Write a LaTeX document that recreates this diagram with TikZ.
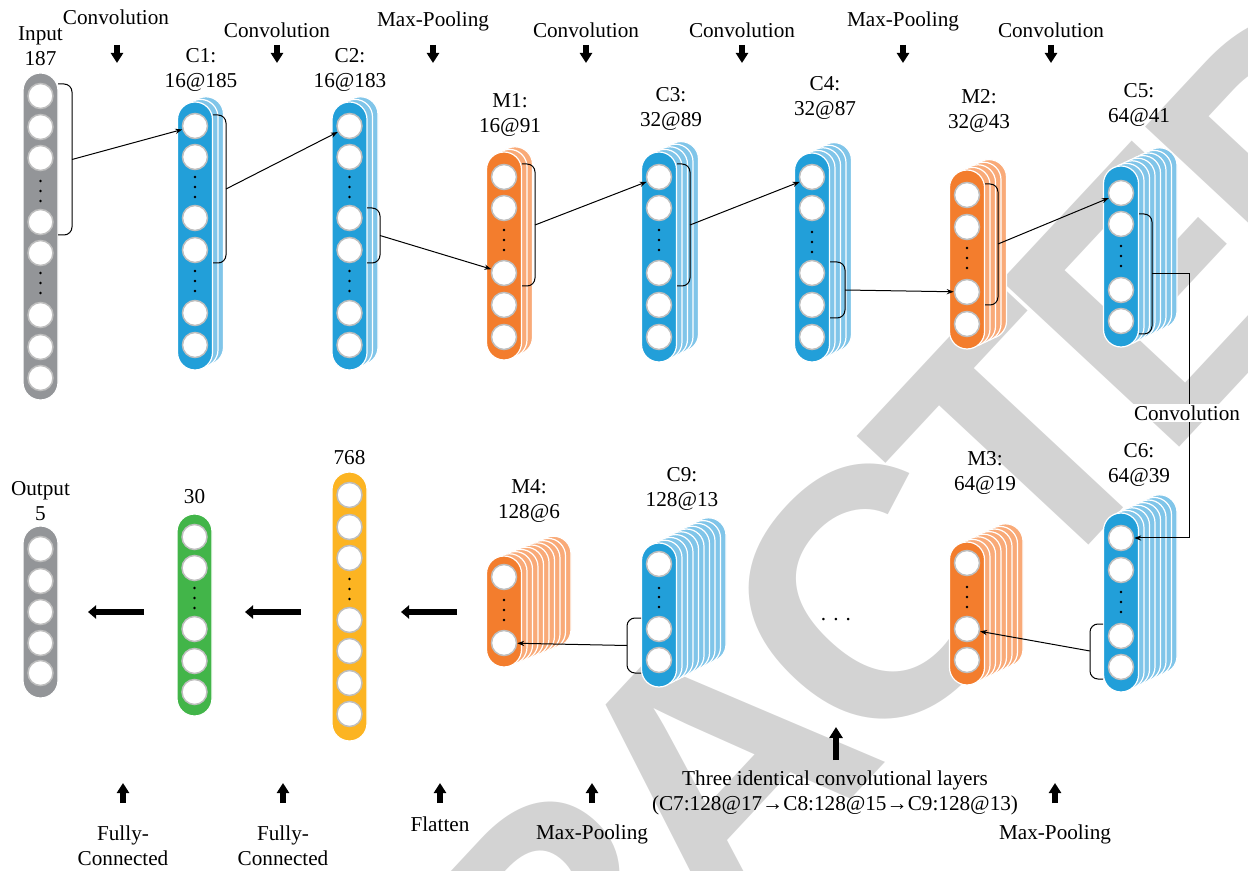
\documentclass[tikz,border=0pt]{standalone}
\usepackage{fontspec}
\setmainfont{Liberation Serif}
\setsansfont{Liberation Sans}
\newfontfamily\wmfont{Liberation Sans}[LetterSpace=-7]
\usetikzlibrary{arrows.meta}
\definecolor{pillgray}{RGB}{147,149,152}
\definecolor{nblue}{RGB}{34,159,217}
\definecolor{lblue}{RGB}{128,197,233}
\definecolor{norange}{RGB}{243,125,45}
\definecolor{lorange}{RGB}{249,170,120}
\definecolor{nyellow}{RGB}{252,180,34}
\definecolor{ngreen}{RGB}{66,181,73}
\definecolor{ringgray}{RGB}{190,190,190}
\definecolor{wmgray}{RGB}{211,211,211}
\tikzset{
  pill/.style={rectangle, rounded corners=8.75pt, minimum width=17.5pt, inner sep=0pt, draw=white, line width=0.6pt},
  unit/.style={circle, fill=white, draw=ringgray, line width=0.75pt, minimum size=12.5pt, inner sep=0pt},
  brace/.style={rounded corners=4pt, line width=0.5pt},
  link/.style={line width=0.5pt, -{Stealth[length=3.5pt,width=2.6pt]}},
  dn/.style={line width=2.8pt, -{Triangle[length=5pt,width=6pt]}},
  bigup/.style={line width=3.3pt, -{Triangle[length=5.5pt,width=6.5pt]}},
  fat/.style={line width=3.2pt, -{Triangle[length=4pt,width=6.5pt]}}
}
\begin{document}
\begin{tikzpicture}[x=0.5pt, y=-0.5pt, font=\fontsize{10.6}{12.5}\selectfont]
\useasboundingbox (0,0) rectangle (1248,871);
% watermark
\begin{scope}
\clip (0,0) rectangle (1248,871);
\node[rotate=47, text=wmgray, inner sep=0pt, font=\wmfont\bfseries\fontsize{177}{177}\selectfont] (wm) at (716,766) {RETRACTED};
\end{scope}

% input
\node[pill, fill=pillgray, minimum height=163.5pt] (in) at (40.5,236.5) {};
\foreach \y [count=\k] in {96,127,158,222,253,315,347,378} \node[unit] (in-\k) at (40.5,\y) {};
\foreach \y in {181,191,201,273,283,293} \fill (40.5,\y) circle (0.65pt);

% C1
\foreach \i in {2,1} \node[pill, fill=lblue, minimum height=134pt] (c1-b\i) at (195+5.5*\i,236-2.6*\i) {};
\node[pill, fill=nblue, minimum height=134pt] (c1) at (195,236) {};
\foreach \y [count=\k] in {126,157,218,250,313,345} \node[unit] (c1-\k) at (195,\y) {};
\foreach \y in {177,187,197,271,281,291} \fill (195,\y) circle (0.65pt);

% C2
\foreach \i in {2,1} \node[pill, fill=lblue, minimum height=134pt] (c2-b\i) at (349.5+5.5*\i,236-2.6*\i) {};
\node[pill, fill=nblue, minimum height=134pt] (c2) at (349.5,236) {};
\foreach \y [count=\k] in {126,157,218,250,313,345} \node[unit] (c2-\k) at (349.5,\y) {};
\foreach \y in {177,187,197,271,281,291} \fill (349.5,\y) circle (0.65pt);

% M1
\foreach \i in {2,1} \node[pill, fill=lorange, minimum height=104pt] (m1-b\i) at (504+5.5*\i,256-2.6*\i) {};
\node[pill, fill=norange, minimum height=104pt] (m1) at (504,256) {};
\foreach \y [count=\k] in {177,208,273,305,337} \node[unit] (m1-\k) at (504,\y) {};
\foreach \y in {230,240,250} \fill (504,\y) circle (0.65pt);

% C3
\foreach \i in {4,3,2,1} \node[pill, fill=lblue, minimum height=105pt] (c3-b\i) at (659+5.5*\i,257-2.6*\i) {};
\node[pill, fill=nblue, minimum height=105pt] (c3) at (659,257) {};
\foreach \y [count=\k] in {177,208,273,305,337} \node[unit] (c3-\k) at (659,\y) {};
\foreach \y in {230,240,250} \fill (659,\y) circle (0.65pt);

% C4
\foreach \i in {4,3,2,1} \node[pill, fill=lblue, minimum height=104.5pt] (c4-b\i) at (812+5.5*\i,257.5-2.6*\i) {};
\node[pill, fill=nblue, minimum height=104.5pt] (c4) at (812,257.5) {};
\foreach \y [count=\k] in {177,208,273,305,337} \node[unit] (c4-\k) at (812,\y) {};
\foreach \y in {232,242,252} \fill (812,\y) circle (0.65pt);

% M2
\foreach \i in {4,3,2,1} \node[pill, fill=lorange, minimum height=89.5pt] (m2-b\i) at (967+5.5*\i,259.5-2.6*\i) {};
\node[pill, fill=norange, minimum height=89.5pt] (m2) at (967,259.5) {};
\foreach \y [count=\k] in {195,227,292,324} \node[unit] (m2-\k) at (967,\y) {};
\foreach \y in {248,258,268} \fill (967,\y) circle (0.65pt);

% C5
\foreach \i in {7,6,5,4,3,2,1} \node[pill, fill=lblue, minimum height=90.5pt] (c5-b\i) at (1121+5.5*\i,256.5-2.6*\i) {};
\node[pill, fill=nblue, minimum height=90.5pt] (c5) at (1121,256.5) {};
\foreach \y [count=\k] in {193,224,290,321} \node[unit] (c5-\k) at (1121,\y) {};
\foreach \y in {246,256,266} \fill (1121,\y) circle (0.65pt);

% C6
\foreach \i in {7,6,5,4,3,2,1} \node[pill, fill=lblue, minimum height=89.5pt] (c6-b\i) at (1121+5.5*\i,602.5-2.6*\i) {};
\node[pill, fill=nblue, minimum height=89.5pt] (c6) at (1121,602.5) {};
\foreach \y [count=\k] in {538,570,636,667} \node[unit] (c6-\k) at (1121,\y) {};
\foreach \y in {592,602,612} \fill (1121,\y) circle (0.65pt);

% M3
\foreach \i in {7,6,5,4,3,2,1} \node[pill, fill=lorange, minimum height=71.5pt] (m3-b\i) at (967+5.5*\i,613.5-2.6*\i) {};
\node[pill, fill=norange, minimum height=71.5pt] (m3) at (967,613.5) {};
\foreach \y [count=\k] in {563,629,660} \node[unit] (m3-\k) at (967,\y) {};
\foreach \y in {587,597,607} \fill (967,\y) circle (0.65pt);

% C9
\foreach \i in {9,8,7,6,5,4,3,2,1} \node[pill, fill=lblue, minimum height=72pt] (c9-b\i) at (659+5.5*\i,615-2.8*\i) {};
\node[pill, fill=nblue, minimum height=72pt] (c9) at (659,615) {};
\foreach \y [count=\k] in {564,629,660} \node[unit] (c9-\k) at (659,\y) {};
\foreach \y in {588,597,607} \fill (659,\y) circle (0.65pt);

% M4
\foreach \i in {9,8,7,6,5,4,3,2,1} \node[pill, fill=lorange, minimum height=55.5pt] (m4-b\i) at (504+5.5*\i,611.5-2.2*\i) {};
\node[pill, fill=norange, minimum height=55.5pt] (m4) at (504,611.5) {};
\foreach \y [count=\k] in {577,643} \node[unit] (m4-\k) at (504,\y) {};
\foreach \y in {600,610,620} \fill (504,\y) circle (0.65pt);

% flatten, dense, output
\node[pill, fill=nyellow, minimum height=134.5pt] (fl) at (349.5,606.5) {};
\foreach \y [count=\k] in {495,527,558,620,651,683,714} \node[unit] (fl-\k) at (349.5,\y) {};
\foreach \y in {579,589,599} \fill (349.5,\y) circle (0.65pt);
\node[pill, fill=ngreen, minimum height=101pt] (fc) at (194.5,615) {};
\foreach \y [count=\k] in {537,568,629,661,692} \node[unit] (fc-\k) at (194.5,\y) {};
\foreach \y in {588,598,608} \fill (194.5,\y) circle (0.65pt);
\node[pill, fill=pillgray, minimum height=86pt] (out) at (40.5,612) {};
\foreach \y [count=\k] in {549,581,612,643,673} \node[unit] (out-\k) at (40.5,\y) {};

% brackets and links
\draw[brace] (58,84) -- (72,84) -- (72,235) -- (58,235);
\coordinate (bin) at (72,159.5);
\draw[link] (bin) -- (c1-1);
\draw[brace] (213,115) -- (226,115) -- (226,263) -- (213,263);
\coordinate (bc1) at (226,189);
\draw[link] (bc1) -- (c2-1);
\draw[brace] (367,208) -- (380,208) -- (380,263) -- (367,263);
\coordinate (bc2) at (380,235.5);
\draw[link] (bc2) -- (m1-3);
\draw[brace] (522,164) -- (535,164) -- (535,286) -- (522,286);
\coordinate (bm1) at (535,225);
\draw[link] (bm1) -- (c3-1);
\draw[brace] (677,164) -- (690,164) -- (690,286) -- (677,286);
\coordinate (bc3) at (690,225);
\draw[link] (bc3) -- (c4-1);
\draw[brace] (830,262) -- (845,262) -- (845,318) -- (830,318);
\coordinate (bc4) at (845,290);
\draw[link] (bc4) -- (m2-3);
\draw[brace] (985,184) -- (998,184) -- (998,305) -- (985,305);
\coordinate (bm2) at (998,244);
\draw[link] (bm2) -- (c5-1);
\draw[brace] (1139,214) -- (1152,214) -- (1152,334) -- (1139,334);
\coordinate (bc5) at (1152,274);
\coordinate (turn) at (1189,538);
\draw[link] (bc5) -| (turn) -- (c6-1);
\node[fill=white, inner sep=1pt] (convr) at (1187,413) {Convolution};
\draw[brace] (1103,624) -- (1090,624) -- (1090,679) -- (1103,679);
\coordinate (bc6) at (1090,651);
\draw[link] (bc6) -- (m3-2);
\draw[brace] (641,618) -- (627,618) -- (627,673) -- (641,673);
\coordinate (bc9) at (627,645.5);
\draw[link] (bc9) -- (m4-2);
\node (gap) at (836,620) {.\,\,.\,\,.};

% layer labels
\node[align=center] (inlab) at (40.5,46) {Input\\187};
\node[align=center] (c1lab) at (201,70) {C1:\\16@185};
\node[align=center] (c2lab) at (350,70) {C2:\\16@183};
\node[align=center] (m1lab) at (510,115) {M1:\\16@91};
\node[align=center] (c3lab) at (671,109) {C3:\\32@89};
\node[align=center] (c4lab) at (825,98) {C4:\\32@87};
\node[align=center] (m2lab) at (979,111) {M2:\\32@43};
\node[align=center] (c5lab) at (1139,105) {C5:\\64@41};
\node[align=center] (c6lab) at (1139,465) {C6:\\64@39};
\node[align=center] (m3lab) at (985,473) {M3:\\64@19};
\node[align=center] (c9lab) at (682,489) {C9:\\128@13};
\node[align=center] (m4lab) at (529,501) {M4:\\128@6};
\node (fllab) at (349.5,458) {768};
\node (fclab) at (194.5,497) {30};
\node[align=center] (outlab) at (40.5,501) {Output\\5};

% operations on top
\node (op1) at (116,17) {Convolution};
\node (op2) at (277,30) {Convolution};
\node (op3) at (433,21) {Max-Pooling};
\node (op4) at (586,30) {Convolution};
\node (op5) at (742,30) {Convolution};
\node (op6) at (903,21) {Max-Pooling};
\node (op7) at (1051,30) {Convolution};
\foreach \x in {117,277,433,586,742,903,1051} \draw[dn] (\x,45) -- (\x,63);

% operations at the bottom
\node[align=center] (op8) at (123,846) {Fully-\\Connected};
\node[align=center] (op9) at (283,846) {Fully-\\Connected};
\node (op10) at (440,824) {Flatten};
\node (op11) at (592,834) {Max-Pooling};
\node[align=center] (op12) at (835,793) {Three identical convolutional layers\\(C7:128@17→C8:128@15→C9:128@13)};
\node (op13) at (1055,834) {Max-Pooling};
\foreach \x in {123,283,440,592,1055} \draw[dn] (\x,803) -- (\x,783);
\draw[bigup] (836,760) -- (836,727);
\draw[fat] (144,612) -- (88,612);
\draw[fat] (301,612) -- (245,612);
\draw[fat] (457,612) -- (401,612);
\end{tikzpicture}
\end{document}
